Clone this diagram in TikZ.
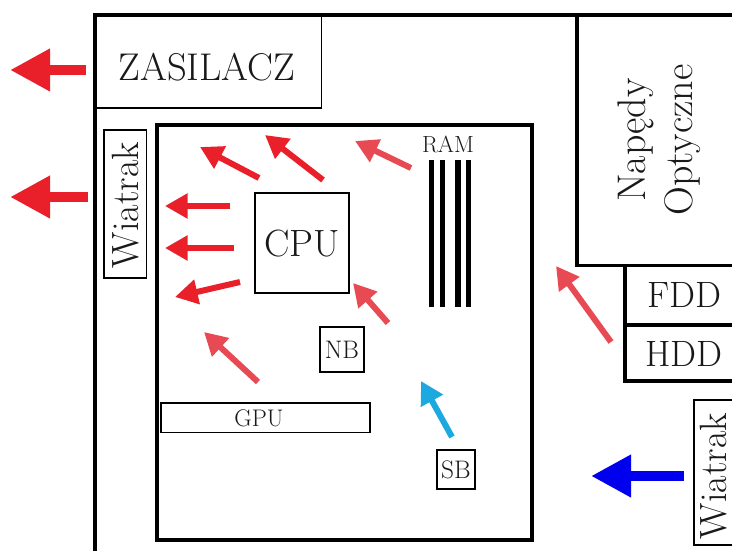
\documentclass[tikz,border=0pt]{standalone}
\usepackage{fontspec}
\usetikzlibrary{arrows.meta,fit}
\definecolor{hotred}{RGB}{233,32,42}
\definecolor{softred}{RGB}{232,74,84}
\definecolor{skyblue}{RGB}{27,169,224}
\definecolor{deepblue}{RGB}{0,0,238}
\definecolor{inkgray}{RGB}{25,25,25}
\tikzset{
  frame/.style={draw=black,line width=3pt,inner sep=0pt},
  midframe/.style={draw=black,line width=2.3pt,inner sep=0pt},
  thinbox/.style={draw=black,line width=1.4pt,inner sep=0pt},
  tinybox/.style={draw=black,line width=1.1pt,inner sep=0pt},
  lbl/.style={inner sep=0pt,text=inkgray},
  bigarrow/.style={line width=8pt,-{Triangle[length=30pt,width=30pt]}},
  smallarrow/.style={line width=4.5pt,-{Triangle[length=17pt,width=18pt]}},
  rambar/.style={fill=black,draw=none,inner sep=0pt}
}
\begin{document}
\begin{tikzpicture}[x=0.75pt,y=-0.75pt]
\useasboundingbox (0,0) rectangle (732,550);
\clip (0,0) rectangle (732,550);
% outer case
\node[frame,fit={(95,14.5) (780,590)}] (case) {};
% power supply
\node[thinbox,fit={(95,14.5) (321.5,108)}] (psubox) {};
\node[lbl,font=\fontsize{29}{34}\selectfont] (psu) at (207,67) {ZASILACZ};
% left fan
\node[thinbox,fit={(104,130) (146.5,278)}] (fanlbox) {};
\node[lbl,rotate=90,font=\fontsize{28.5}{34}\selectfont] (fanl) at (126,205) {Wiatrak};
% motherboard
\node[frame,fit={(157,125) (532,540)}] (mobo) {};
% CPU
\node[thinbox,fit={(255,193) (349,293)}] (cpubox) {};
\node[lbl,font=\fontsize{28.5}{34}\selectfont] (cpu) at (302,244) {CPU};
% RAM
\node[lbl,font=\fontsize{17.5}{20}\selectfont] (ram) at (448,144) {RAM};
\node[rambar,fit={(429.3,160) (434.3,307)}] (ram1) {};
\node[rambar,fit={(440,160) (445.3,307)}] (ram2) {};
\node[rambar,fit={(455.3,160) (460.7,307)}] (ram3) {};
\node[rambar,fit={(466,160) (471.3,307)}] (ram4) {};
% NB
\node[tinybox,fit={(320,327) (364,372)}] (nbbox) {};
\node[lbl,font=\fontsize{19}{22}\selectfont] (nb) at (342,350) {NB};
% GPU
\node[tinybox,fit={(161,403) (370,432.5)}] (gpubox) {};
\node[lbl,font=\fontsize{18}{20}\selectfont] (gpu) at (259,418) {GPU};
% SB
\node[tinybox,fit={(437,450) (475,489)}] (sbbox) {};
\node[lbl,font=\fontsize{19}{22}\selectfont] (sb) at (456,470) {SB};
% optical drives
\node[midframe,fit={(577,14.5) (780,265.5)}] (odd) {};
\node[lbl,rotate=90,align=center,font=\fontsize{30}{35}\selectfont] (oddt) at (659,140) {Napędy\\Optyczne};
% FDD / HDD
\node[midframe,fit={(625,265.5) (780,325)}] (fddbox) {};
\node[lbl,font=\fontsize{27.5}{30}\selectfont] (fdd) at (684,295) {FDD};
\node[midframe,fit={(625,325) (780,381)}] (hddbox) {};
\node[lbl,font=\fontsize{27.5}{30}\selectfont] (hdd) at (684,354) {HDD};
% right fan
\node[thinbox,fit={(694,400) (760,545)}] (fanrbox) {};
\node[lbl,rotate=90,font=\fontsize{28.5}{34}\selectfont] (fanr) at (714,476) {Wiatrak};
% arrow end points
\coordinate (a1s) at (86,70);   \coordinate (a1e) at (10,70);
\coordinate (a2s) at (88,197);  \coordinate (a2e) at (10,197);
\coordinate (b1s) at (684,476); \coordinate (b1e) at (591,476);
\coordinate (i1s) at (259,178); \coordinate (i1e) at (200,147);
\coordinate (i2s) at (323,180); \coordinate (i2e) at (265,135);
\coordinate (i3s) at (411,168); \coordinate (i3e) at (355,141);
\coordinate (i4s) at (230,206); \coordinate (i4e) at (165,206);
\coordinate (i5s) at (234,248); \coordinate (i5e) at (165,248);
\coordinate (i6s) at (240,282); \coordinate (i6e) at (175,297);
\coordinate (i7s) at (388,323); \coordinate (i7e) at (353,283);
\coordinate (i8s) at (258,382); \coordinate (i8e) at (204,332);
\coordinate (o1s) at (611,342); \coordinate (o1e) at (556,266);
\coordinate (c1s) at (452,437); \coordinate (c1e) at (421,381);
% big arrows
\draw[bigarrow,hotred] (a1s) -- (a1e);
\draw[bigarrow,hotred] (a2s) -- (a2e);
\draw[bigarrow,deepblue] (b1s) -- (b1e);
% small arrows
\draw[smallarrow,hotred] (i1s) -- (i1e);
\draw[smallarrow,hotred] (i2s) -- (i2e);
\draw[smallarrow,softred] (i3s) -- (i3e);
\draw[smallarrow,hotred] (i4s) -- (i4e);
\draw[smallarrow,hotred] (i5s) -- (i5e);
\draw[smallarrow,hotred] (i6s) -- (i6e);
\draw[smallarrow,softred] (i7s) -- (i7e);
\draw[smallarrow,softred] (i8s) -- (i8e);
\draw[smallarrow,softred] (o1s) -- (o1e);
\draw[smallarrow,skyblue] (c1s) -- (c1e);
\end{tikzpicture}
\end{document}
